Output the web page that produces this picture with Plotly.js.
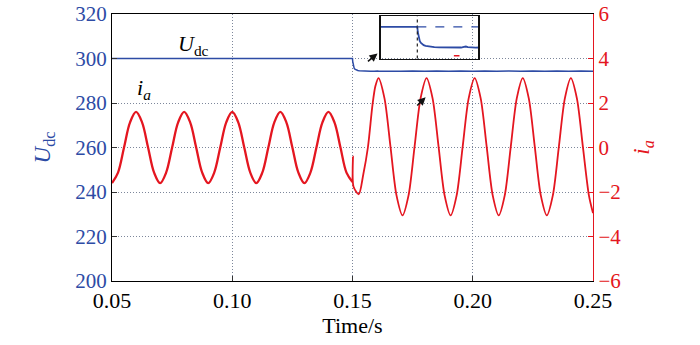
<!DOCTYPE html>
<html>
<head>
<meta charset="utf-8">
<script src="https://cdn.plot.ly/plotly-3.0.1.min.js"></script>
<style>html,body{margin:0;padding:0;background:#fff;}#chart{width:700px;height:345px;}</style>
</head>
<body>
<div id="chart"></div>
<script>
// ---- data ----
// phase current i_a before the step (A)
const iaT1 = [0.0500,0.0525,0.0550,0.0575,0.0600,0.0625,0.0650,0.0675,0.0700,0.0725,0.0750,0.0775,0.0800,0.0825,0.0850,0.0875,0.0900,0.0925,0.0950,0.0975,0.1000,0.1025,0.1050,0.1075,0.1100,0.1125,0.1150,0.1175,0.1200,0.1225,0.1250,0.1275,0.1300,0.1325,0.1350,0.1375,0.1400,0.1425,0.1450,0.1475,0.1500];
const iaV1 = [-1.60,-1.13,0.00,1.13,1.60,1.13,0.00,-1.13,-1.60,-1.13,0.00,1.13,1.60,1.13,0.00,-1.13,-1.60,-1.13,0.00,1.13,1.60,1.13,0.00,-1.13,-1.60,-1.13,0.00,1.13,1.60,1.13,0.00,-1.13,-1.60,-1.13,0.00,1.13,1.60,1.13,0.00,-1.13,-1.55];
// phase current i_a after the step (A)
const iaT2 = [0.1500,0.1502,0.1504,0.1526,0.1545,0.1564,0.1583,0.1595,0.1608,0.1633,0.1658,0.1683,0.1708,0.1733,0.1758,0.1783,0.1808,0.1833,0.1858,0.1883,0.1908,0.1933,0.1958,0.1983,0.2008,0.2033,0.2058,0.2083,0.2108,0.2133,0.2158,0.2183,0.2208,0.2233,0.2258,0.2283,0.2308,0.2333,0.2358,0.2383,0.2408,0.2433,0.2458,0.2483,0.2500];
const iaV2 = [-1.55,-0.40,-1.75,-2.10,-1.20,0.00,1.90,2.75,3.12,2.21,0.03,-2.15,-3.05,-2.15,0.03,2.21,3.12,2.21,0.03,-2.15,-3.05,-2.15,0.03,2.21,3.12,2.21,0.03,-2.15,-3.05,-2.15,0.03,2.21,3.12,2.21,0.03,-2.15,-3.05,-2.15,0.03,2.21,3.12,2.21,0.03,-2.15,-2.95];
// DC-link voltage U_dc (V)
const udcT = [0.0500,0.1500,0.1501,0.1502,0.1503,0.1505,0.1507,0.1510,0.1513,0.1517,0.1522,0.1528,0.1535,0.1545,0.1560,0.1575,0.1590,0.1596,0.1600,0.1604,0.1610,0.1620,0.1650,0.1700,0.1750,0.1800,0.1850,0.1900,0.1950,0.2000,0.2050,0.2100,0.2150,0.2200,0.2250,0.2300,0.2350,0.2400,0.2450,0.2500];
const udcV = [300.0,300.0,298.6,297.6,296.9,296.1,295.6,295.2,294.95,294.75,294.6,294.48,294.4,294.33,294.28,294.25,294.28,294.45,294.55,294.4,294.27,294.25,294.38,294.22,294.4,294.22,294.4,294.22,294.4,294.22,294.4,294.22,294.4,294.22,294.4,294.22,294.4,294.22,294.4,294.3];
// inset helpers
const stepTime = [0.15];
const udcRef = [300];
const insetMarkT = [0.1581];
const insetMarkV = [292.0];

const BLUE = 'rgb(45,75,165)';
const RED = 'rgb(228,22,32)';
const GRID = 'rgb(125,135,155)';
const SERIF = 'Liberation Serif';

const traces = [
  {x: udcT, y: udcV, type: 'scatter', mode: 'lines', xaxis: 'x', yaxis: 'y',
   line: {color: BLUE, width: 1.5}, hoverinfo: 'skip'},
  {x: iaT1, y: iaV1, type: 'scatter', mode: 'lines', xaxis: 'x', yaxis: 'y2',
   line: {color: RED, width: 2.3, shape: 'spline', smoothing: 1}, hoverinfo: 'skip'},
  {x: iaT2, y: iaV2, type: 'scatter', mode: 'lines', xaxis: 'x', yaxis: 'y2',
   line: {color: RED, width: 1.8, shape: 'spline', smoothing: 0.8}, hoverinfo: 'skip'},
  // inset
  {x: udcT, y: udcV, type: 'scatter', mode: 'lines', xaxis: 'x3', yaxis: 'y3',
   line: {color: BLUE, width: 1.8}, hoverinfo: 'skip'},
  {x: insetMarkT, y: insetMarkV, type: 'scatter', mode: 'markers', xaxis: 'x3', yaxis: 'y3',
   marker: {symbol: 'line-ew', size: 4, line: {color: RED, width: 1.5}}, hoverinfo: 'skip'}
];

const layout = {
  width: 700, height: 345,
  margin: {l: 112, r: 107, t: 14, b: 64},
  paper_bgcolor: '#fff', plot_bgcolor: 'rgba(0,0,0,0)',
  showlegend: false,
  font: {family: SERIF, size: 21, color: '#000'},
  xaxis: {
    range: [0.05, 0.25], tick0: 0.05, dtick: 0.05, tickformat: '.2f',
    ticks: 'inside', ticklen: 5, tickcolor: '#333',
    showline: true, mirror: true, linecolor: '#000', linewidth: 1,
    showgrid: true, gridcolor: GRID, griddash: '1px,2px', gridwidth: 1, zeroline: false,
    tickfont: {family: SERIF, size: 22, color: '#000'},
    title: {text: 'Time/s', font: {family: SERIF, size: 22, color: '#000'}, standoff: 4}
  },
  yaxis: {
    range: [200, 320], dtick: 20,
    ticks: 'inside', ticklen: 5, tickcolor: '#333',
    showline: true, linecolor: '#000', linewidth: 1,
    showgrid: true, gridcolor: GRID, griddash: '1px,2px', gridwidth: 1, zeroline: false,
    tickfont: {family: SERIF, size: 21, color: BLUE},
    title: {text: '<i>U</i><sub>dc</sub>', font: {family: SERIF, size: 23, color: BLUE}, standoff: 18}
  },
  yaxis2: {
    overlaying: 'y', side: 'right', range: [-6, 6], dtick: 2,
    ticks: 'inside', ticklen: 5, tickcolor: RED,
    showline: true, linecolor: RED, linewidth: 1.2,
    showgrid: false, zeroline: false,
    tickfont: {family: SERIF, size: 21, color: RED},
    title: {text: '<i>i</i><sub><i>a</i></sub>', font: {family: SERIF, size: 23, color: RED}, standoff: 12}
  },
  xaxis3: {
    domain: [0.559, 0.761], anchor: 'y3', range: [0.1425, 0.1625],
    showticklabels: false, ticks: '', showgrid: false, zeroline: false,
    showline: true, mirror: true, linecolor: '#111', linewidth: 1.6
  },
  yaxis3: {
    domain: [0.833, 0.992], anchor: 'x3', range: [291.2, 303],
    showticklabels: false, ticks: '', showgrid: false, zeroline: false,
    showline: true, mirror: true, linecolor: '#111', linewidth: 1.6
  },
  shapes: [
    {type: 'line', xref: 'x3', yref: 'y3 domain', x0: stepTime[0], x1: stepTime[0], y0: 0, y1: 1,
     line: {color: '#222', width: 1.2, dash: 'dot'}},
    {type: 'line', xref: 'x3', yref: 'y3', x0: stepTime[0], x1: 0.1625, y0: udcRef[0], y1: udcRef[0],
     line: {color: BLUE, width: 1.2, dash: 'dash'}}
  ],
  annotations: [
    {x: 0.0838, y: 306, xref: 'x', yref: 'y', text: '<i>U</i><sub>dc</sub>', showarrow: false,
     font: {family: SERIF, size: 22, color: '#000'}},
    {x: 0.0632, y: 286.5, xref: 'x', yref: 'y', text: '<i>i</i><sub><i>a</i></sub>', showarrow: false,
     font: {family: SERIF, size: 22, color: '#000'}},
    {x: 0.1604, y: 302.2, xref: 'x', yref: 'y', ax: 0.1558, ay: 298.2, axref: 'x', ayref: 'y',
     showarrow: true, arrowhead: 2, arrowsize: 1, arrowwidth: 1.6, arrowcolor: '#111', text: ''},
    {x: 0.1804, y: 282.6, xref: 'x', yref: 'y', ax: 0.1763, ay: 278.2, axref: 'x', ayref: 'y',
     showarrow: true, arrowhead: 2, arrowsize: 1, arrowwidth: 1.6, arrowcolor: '#111', text: ''}
  ]
};

Plotly.newPlot('chart', traces, layout, {displayModeBar: false, staticPlot: true});
</script>
</body>
</html>
